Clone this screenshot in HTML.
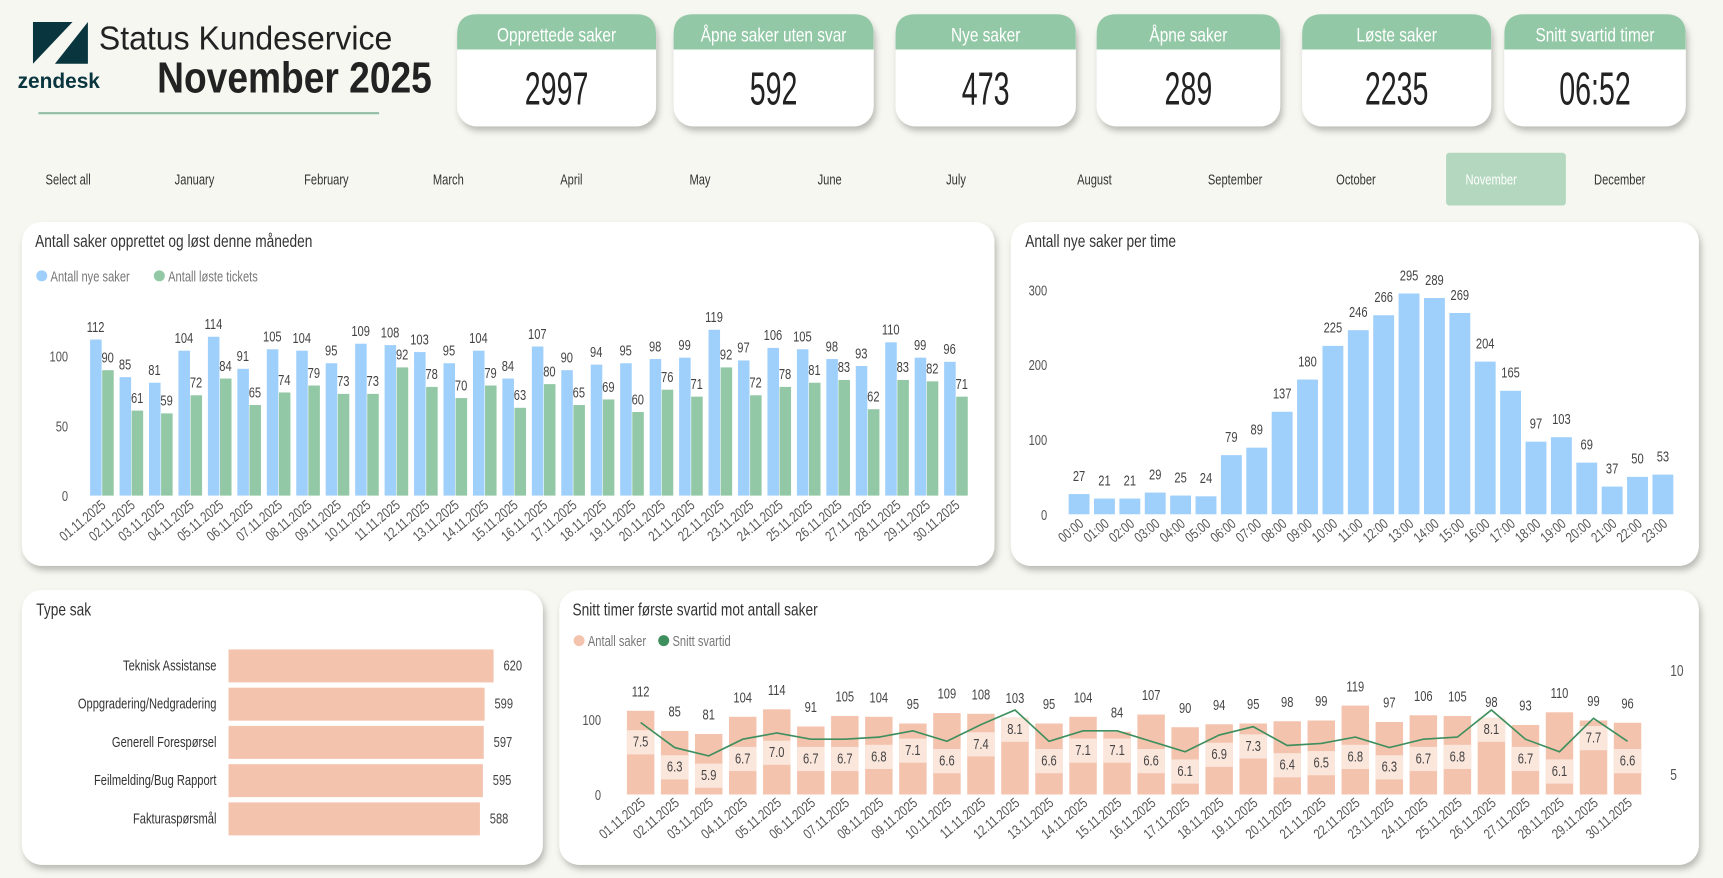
<!DOCTYPE html>
<html><head><meta charset="utf-8"><style>
html,body{margin:0;padding:0;background:#f7f7f1;}
svg{display:block;font-family:"Liberation Sans",sans-serif;}
</style></head><body>
<svg id="root" width="1723" height="878" viewBox="0 0 1568 799" preserveAspectRatio="none" xmlns="http://www.w3.org/2000/svg">
<defs>
<filter id="sh" x="-5%" y="-5%" width="115%" height="125%"><feDropShadow dx="2" dy="4" stdDeviation="3" flood-color="#000" flood-opacity="0.25"/></filter>
</defs>
<rect width="1568" height="799" fill="#f7f7f1"/>
<g>
<polygon points="30,20 66,20 30,58" fill="#08353e"/>
<polygon points="50,58 80,20 80,58" fill="#08353e"/>
<text x="16" y="80" font-size="19" font-weight="bold" fill="#08353e">zendesk</text>
</g>
<text x="90" y="45" font-size="30" fill="#222" textLength="267" lengthAdjust="spacingAndGlyphs">Status Kundeservice</text>
<text x="143" y="84" font-size="40" font-weight="bold" fill="#222" textLength="250" lengthAdjust="spacingAndGlyphs">November 2025</text>
<rect x="35" y="102" width="310" height="2" fill="#93c0a5"/>
<g id="cards"></g>
<g id="months"></g>
<rect x="20" y="202" width="885" height="313" rx="18" fill="#fff" filter="url(#sh)"/>
<rect x="920" y="202" width="626" height="313" rx="18" fill="#fff" filter="url(#sh)"/>
<rect x="20" y="537" width="474" height="250" rx="18" fill="#fff" filter="url(#sh)"/>
<rect x="509" y="537" width="1037" height="250" rx="18" fill="#fff" filter="url(#sh)"/>
<text class="c" x="32" y="225" font-size="16" fill="#333">Antall saker opprettet og løst denne måneden</text>
<text class="c" x="933" y="225" font-size="16" fill="#333">Antall nye saker per time</text>
<text class="c" x="33" y="560" font-size="16" fill="#333">Type sak</text>
<text class="c" x="521" y="560" font-size="16" fill="#333">Snitt timer første svartid mot antall saker</text>
<g id="c1"></g><g id="c2"></g><g id="c3"></g><g id="c4"></g>
</svg>
<script>
const days = ["01.11.2025","02.11.2025","03.11.2025","04.11.2025","05.11.2025","06.11.2025","07.11.2025","08.11.2025","09.11.2025","10.11.2025","11.11.2025","12.11.2025","13.11.2025","14.11.2025","15.11.2025","16.11.2025","17.11.2025","18.11.2025","19.11.2025","20.11.2025","21.11.2025","22.11.2025","23.11.2025","24.11.2025","25.11.2025","26.11.2025","27.11.2025","28.11.2025","29.11.2025","30.11.2025"];
const newCases = [112,85,81,104,114,91,105,104,95,109,108,103,95,104,84,107,90,94,95,98,99,119,97,106,105,98,93,110,99,96];
const solved = [90,61,59,72,84,65,74,79,73,73,92,78,70,79,63,80,65,69,60,76,71,92,72,78,81,83,62,83,82,71];
const hours = ["00:00","01:00","02:00","03:00","04:00","05:00","06:00","07:00","08:00","09:00","10:00","11:00","12:00","13:00","14:00","15:00","16:00","17:00","18:00","19:00","20:00","21:00","22:00","23:00"];
const perHour = [27,21,21,29,25,24,79,89,137,180,225,246,266,295,289,269,204,165,97,103,69,37,50,53];
const types = ["Teknisk Assistanse","Oppgradering/Nedgradering","Generell Forespørsel","Feilmelding/Bug Rapport","Fakturaspørsmål"];
const typeCounts = [620,599,597,595,588];
const respTime = [7.5,6.3,5.9,6.7,7.0,6.7,6.7,6.8,7.1,6.6,7.4,8.1,6.6,7.1,7.1,6.6,6.1,6.9,7.3,6.4,6.5,6.8,6.3,6.7,6.8,8.1,6.7,6.1,7.7,6.6];
const kpiTitles = ["Opprettede saker","Åpne saker uten svar","Nye saker","Åpne saker","Løste saker","Snitt svartid timer"];
const kpiValues = ["2997","592","473","289","2235","06:52"];
const months = ["Select all","January","February","March","April","May","June","July","August","September","October","November","December"];
const ticks1 = [0,50,100];
const ticks2 = [0,100,200,300];
const ticks4L = [0,100];
const ticks4R = [5,10];

const NS="http://www.w3.org/2000/svg";
function mk(parent,tag,attrs,txt){const e=document.createElementNS(NS,tag);for(const k in attrs)e.setAttribute(k,attrs[k]);if(txt!==undefined){e.textContent=txt;if(tag==='text')e.setAttribute('class','c');}parent.appendChild(e);return e;}

const cardX=[[416,597],[613,795],[815,979],[998,1165],[1185,1357],[1369,1534]];
const cg=document.getElementById('cards');
kpiTitles.forEach((t,i)=>{
  const [a,b]=cardX[i];const w=b-a;
  const g=mk(cg,'g',{});
  
  
  mk(g,'rect',{x:a,y:13,width:w,height:102,rx:18,fill:'#fff',filter:'url(#sh)'});
  mk(g,'path',{d:`M${a},45 L${a},31 Q${a},13 ${a+18},13 L${b-18},13 Q${b},13 ${b},31 L${b},45 Z`,fill:'#93c8a6'});
  const tt=mk(g,'text',{x:(a+b)/2,y:38,'font-size':18,fill:'#fff','text-anchor':'middle'},t);
  
  
  const tv=mk(g,'text',{x:(a+b)/2,y:95,'font-size':42,fill:'#222','text-anchor':'middle','data-s':'0.62'},kpiValues[i]);
  
  
});

const mx=[62,177,297,408,520,637,755,870,996,1124,1234,1357,1474];
const mg=document.getElementById('months');
months.forEach((m,i)=>{
  if(m==="November"){const r=mk(mg,'rect',{x:1316,y:139,width:109,height:48,rx:3,fill:'#b3d7bf'});
    
    }
  const t=mk(mg,'text',{x:mx[i],y:168,'font-size':13,fill:m==="November"?'#fff':'#333','text-anchor':'middle'},m);
  
  
});

(function(){
  const g=document.getElementById('c1');
  const y=v=>451-v*1.268, cx=i=>93+i*26.8;
  [["#9fcffb","Antall nye saker",38],["#93c8a6","Antall løste tickets",145]].forEach(([c,l,x])=>{
    const d=mk(g,'circle',{cx:x,cy:251,r:5,fill:c});
    const t=mk(g,'text',{x:x+8,y:256,'font-size':13,fill:'#777'},l);
  });
  ticks1.forEach(v=>{const t=mk(g,'text',{x:62,y:y(v)+5,'font-size':13,fill:'#555','text-anchor':'end'},v);});
  days.forEach((d,i)=>{
    const c=cx(i);
    const b1=mk(g,'rect',{x:c-11,y:y(newCases[i]),width:10.5,height:newCases[i]*1.268,fill:'#9fcffb'});
    
    const b2=mk(g,'rect',{x:c,y:y(solved[i]),width:10.5,height:solved[i]*1.268,fill:'#93c8a6'});
    
    const l1=mk(g,'text',{x:c-6,y:y(newCases[i])-7,'font-size':13,fill:'#444','text-anchor':'middle'},newCases[i]);
    
    const l2=mk(g,'text',{x:c+5,y:y(solved[i])-7,'font-size':13,fill:'#444','text-anchor':'middle'},solved[i]);
    
    const xl=mk(g,'text',{x:c+4,y:461,'font-size':13,fill:'#555','text-anchor':'end','data-r':'-40'},d);
    
  });
})();

(function(){
  const g=document.getElementById('c2');
  const y=v=>468-v*0.681, cx=i=>982+i*23.1;
  ticks2.forEach(v=>{const t=mk(g,'text',{x:953,y:y(v)+5,'font-size':13,fill:'#555','text-anchor':'end'},v);});
  hours.forEach((h,i)=>{
    const c=cx(i);
    const b=mk(g,'rect',{x:c-9.5,y:y(perHour[i]),width:19,height:perHour[i]*0.681,fill:'#9fcffb'});
    
    const l=mk(g,'text',{x:c,y:y(perHour[i])-12,'font-size':13,fill:'#444','text-anchor':'middle'},perHour[i]);
    
    const xl=mk(g,'text',{x:c+5,y:478,'font-size':13,fill:'#555','text-anchor':'end','data-r':'-40'},h);
    
  });
})();

(function(){
  const g=document.getElementById('c3');
  const x0=208,k=0.389;
  types.forEach((t,i)=>{
    const cy=606+i*34.8;
    const b=mk(g,'rect',{x:x0,y:cy-15,width:typeCounts[i]*k,height:30,fill:'#f4c3ad'});
    
    const l=mk(g,'text',{x:197,y:cy+4,'font-size':13,fill:'#333','text-anchor':'end'},t);
    
    const v=mk(g,'text',{x:x0+typeCounts[i]*k+9,y:cy+4,'font-size':13,fill:'#444'},typeCounts[i]);
    
  });
})();

(function(){
  const g=document.getElementById('c4');
  const y=v=>723-v*0.68, yr=v=>705-(v-5)*19, cx=i=>583+i*30.97;
  [["#f4c3ad","Antall saker",527],["#3f8f5e","Snitt svartid",604]].forEach(([c,l,x])=>{
    const d=mk(g,'circle',{cx:x,cy:583,r:5,fill:c});
    const t=mk(g,'text',{x:x+8,y:588,'font-size':13,fill:'#777'},l);
  });
  ticks4L.forEach(v=>{const t=mk(g,'text',{x:547,y:y(v)+5,'font-size':13,fill:'#555','text-anchor':'end'},v);});
  ticks4R.forEach(v=>{const t=mk(g,'text',{x:1520,y:yr(v)+5,'font-size':14,fill:'#555'},v);});
  days.forEach((d,i)=>{
    const c=cx(i);
    const b=mk(g,'rect',{x:c-12.5,y:y(newCases[i]),width:25,height:newCases[i]*0.68,fill:'#f4c3ad'});
    
    const l=mk(g,'text',{x:c,y:y(newCases[i])-13,'font-size':13,fill:'#444','text-anchor':'middle'},newCases[i]);
    
    const ly=yr(respTime[i])+18;
    const bx=mk(g,'rect',{x:c-12.5,y:ly-11,width:25,height:22,fill:'#fbe6dc'});
    
    const lt=mk(g,'text',{x:c,y:ly+4,'font-size':13,fill:'#444','text-anchor':'middle'},respTime[i].toFixed(1));
    
    const xl=mk(g,'text',{x:c+5,y:732,'font-size':13,fill:'#555','text-anchor':'end','data-r':'-40'},d);
    
  });
  const pts=respTime.map((v,i)=>cx(i)+","+yr(v)).join(" ");
  const pl=mk(g,'polyline',{points:pts,fill:'none',stroke:'#3f8f5e','stroke-width':1.5});
  
  
})();

// condense all text horizontally to mimic the narrow DIN-style font
document.querySelectorAll('text.c').forEach(t=>{
  const x=+t.getAttribute('x'), yy=+t.getAttribute('y');
  const s=t.getAttribute('data-s')||'0.78';
  const r=t.getAttribute('data-r');
  let tr=(r?`rotate(${r} ${x} ${yy}) `:'')+`translate(${x},0) scale(${s},1) translate(${-x},0)`;
  t.setAttribute('transform',tr);
});
</script>
</body></html>
